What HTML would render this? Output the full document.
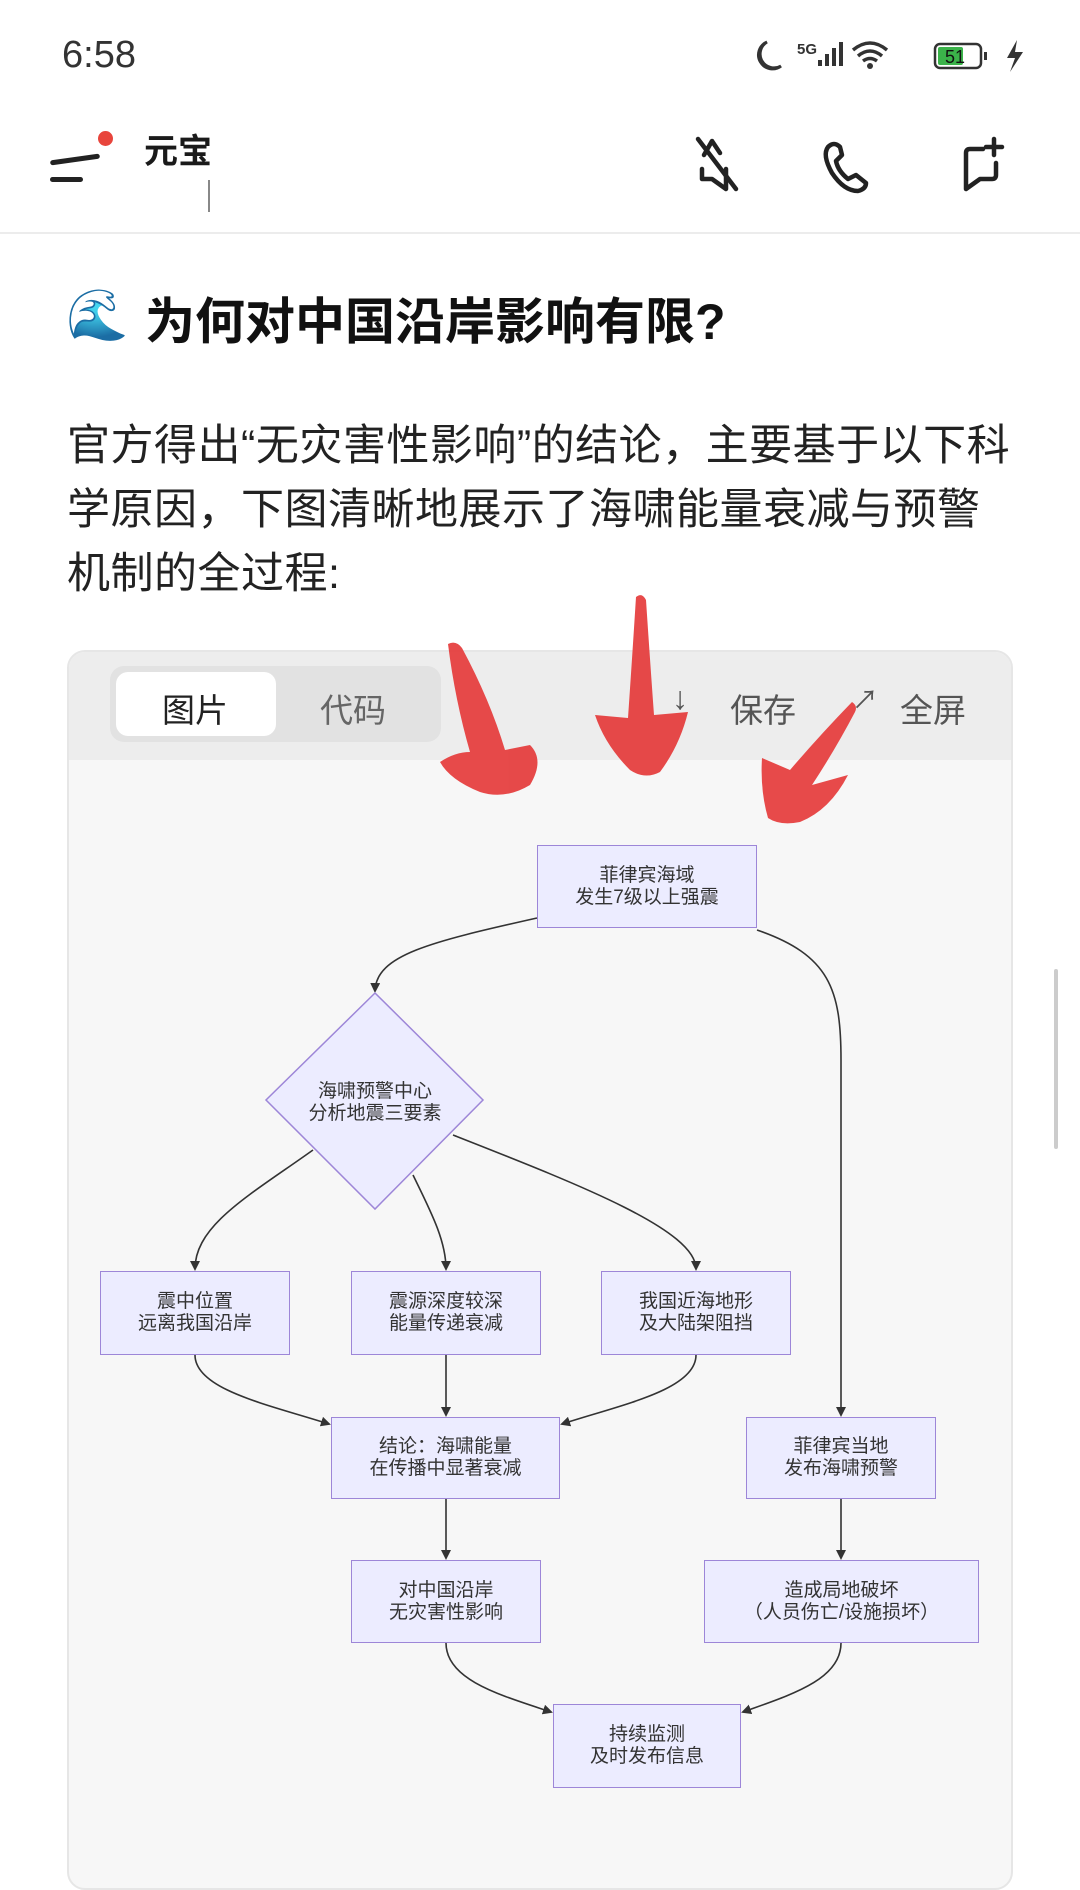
<!DOCTYPE html>
<html><head><meta charset="utf-8"><style>
*{margin:0;padding:0;box-sizing:border-box}
body{width:1080px;height:1872px;background:#fff;font-family:"Liberation Sans","Noto Sans CJK SC",sans-serif;color:#1a1a1a;position:relative;overflow:hidden}
.abs{position:absolute}
.node{position:absolute;background:#ececff;border:1.5px solid #9d86d8;display:flex;align-items:center;justify-content:center;text-align:center;font-size:19px;line-height:22px;color:#333}
</style></head><body>
<div class="abs" style="left:62px;top:34px;font-size:38px;color:#333">6:58</div>
<svg class="abs" style="left:745px;top:34px" width="290" height="44" viewBox="0 0 290 44">
<path d="M22 8 A14 14 0 1 0 36 32 A12 12 0 0 1 22 8Z" fill="none" stroke="#333" stroke-width="3"/>
<text x="52" y="20" font-size="15" font-weight="bold" fill="#333" font-family="Liberation Sans">5G</text>
<rect x="73" y="26" width="4" height="6" fill="#333"/><rect x="80" y="20" width="4" height="12" fill="#333"/><rect x="87" y="14" width="4" height="18" fill="#333"/><rect x="94" y="8" width="4" height="24" fill="#333"/>
<path d="M108 16 Q125 2 142 16 M113 22 Q125 12 137 22 M118 27 Q125 22 132 27" fill="none" stroke="#333" stroke-width="3.5"/><circle cx="125" cy="32" r="3" fill="#333"/>
<rect x="190" y="10" width="46" height="24" rx="5" fill="none" stroke="#333" stroke-width="2.5"/><rect x="193" y="13" width="25" height="18" rx="2" fill="#3bb34a"/>
<text x="200" y="29" font-size="18" fill="#111" font-family="Liberation Sans">51</text><rect x="239" y="18" width="3" height="8" fill="#333"/>
<path d="M272 6 L262 24 L270 24 L265 38 L278 18 L270 18 Z" fill="#333"/>
</svg>
<!-- header -->
<div class="abs" style="left:50px;top:157px;width:50px;height:5px;background:#222;border-radius:3px;transform:rotate(-8deg)"></div>
<div class="abs" style="left:50px;top:177px;width:33px;height:5px;background:#222;border-radius:3px"></div>
<div class="abs" style="left:98px;top:131px;width:15px;height:15px;background:#e8453c;border-radius:50%"></div>
<div class="abs" style="left:144px;top:124px;font-size:34px;font-weight:bold">元宝</div>
<div class="abs" style="left:208px;top:180px;width:2px;height:32px;background:#888"></div>
<svg class="abs" style="left:690px;top:133px" width="340" height="66" viewBox="0 0 340 66">
<g fill="none" stroke="#222" stroke-width="4.5" stroke-linecap="round" stroke-linejoin="round">
<path d="M14 22 L22 8 L30 20 M12 36 L12 46 L22 46 L36 56 L36 36"/><path d="M8 6 L46 56"/>
<path d="M150 14 Q144 8 138 14 Q132 22 142 40 Q154 58 168 58 Q176 56 176 50 L166 42 L158 46 Q148 38 146 28 L152 22 Z"/>
<path d="M293 16 L280 16 Q276 16 276 20 L276 56 L290 46 L302 46 Q306 46 306 42 L306 30 M304 6 L304 22 M296 14 L312 14"/>
</g></svg>
<div class="abs" style="left:0;top:232px;width:1080px;height:2px;background:#ececec"></div>
<!-- title -->
<div class="abs" style="left:66px;top:286px;font-size:50px">🌊</div>
<div class="abs" style="left:145px;top:282px;font-size:50px;font-weight:bold;color:#111">为何对中国沿岸影响有限?</div>
<div class="abs" style="left:67px;top:414px;width:1010px;font-size:43px;line-height:64px;color:#222;white-space:nowrap;letter-spacing:0.5px">官方得出“无灾害性影响”的结论，主要基于以下科<br>学原因，下图清晰地展示了海啸能量衰减与预警<br>机制的全过程:</div>
<!-- card -->
<div class="abs" style="left:67px;top:650px;width:946px;height:1240px;background:#f7f7f7;border:2px solid #e6e6e6;border-radius:18px;overflow:hidden">
<div style="height:108px;background:#ededed"></div>
</div>
<div class="abs" style="left:110px;top:666px;width:331px;height:76px;background:#e2e2e2;border-radius:14px"></div>
<div class="abs" style="left:116px;top:672px;width:160px;height:64px;background:#fff;border-radius:12px"></div>
<div class="abs" style="left:162px;top:684px;font-size:33px;color:#222">图片</div>
<div class="abs" style="left:320px;top:684px;font-size:33px;color:#666">代码</div>
<div class="abs" style="left:672px;top:680px;font-size:32px;color:#555">↓</div>
<div class="abs" style="left:730px;top:684px;font-size:33px;color:#555">保存</div>
<div class="abs" style="left:852px;top:680px;font-size:26px;color:#555">↗</div>
<div class="abs" style="left:900px;top:684px;font-size:33px;color:#555">全屏</div>
<div class="abs" style="left:1054px;top:969px;width:4px;height:180px;background:#ccc;border-radius:2px"></div>
<!-- edges -->
<svg class="abs" style="left:0;top:0" width="1080" height="1872">
<defs><marker id="m" markerWidth="10" markerHeight="10" refX="8" refY="5" orient="auto" markerUnits="userSpaceOnUse"><path d="M0 0 L10 5 L0 10Z" fill="#333"/></marker></defs>
<g fill="none" stroke="#333" stroke-width="1.6" marker-end="url(#m)">
<path d="M537 918 C430 942 376 955 375 991"/>
<path d="M757 930 C830 955 841 990 841 1060 L841 1415"/>
<path d="M313 1150 C250 1195 195 1225 195 1269"/>
<path d="M413 1175 C430 1210 446 1240 446 1269"/>
<path d="M453 1135 C580 1185 696 1230 696 1269"/>
<path d="M195 1355 C195 1390 270 1405 329 1424"/>
<path d="M446 1355 L446 1415"/>
<path d="M696 1355 C696 1390 620 1405 562 1424"/>
<path d="M446 1499 L446 1558"/>
<path d="M841 1499 L841 1558"/>
<path d="M446 1643 C446 1680 500 1695 551 1712"/>
<path d="M841 1643 C841 1680 790 1695 743 1712"/>
</g>
<polygon points="375,993 483,1100 375,1209 266,1100" fill="#ececff" stroke="#9d86d8" stroke-width="1.5"/>
<text font-size="19" fill="#333" text-anchor="middle" font-family="Liberation Sans,Noto Sans CJK SC,sans-serif"><tspan x="375" y="1097">海啸预警中心</tspan><tspan x="375" y="1119">分析地震三要素</tspan></text>
<!-- red arrows -->
<g fill="#e53b3b" opacity="0.92">
<path d="M448 644 Q456 640 462 648 Q490 700 505 750 L530 745 Q545 760 530 785 Q505 800 480 792 Q450 780 440 762 Q455 752 470 752 Q455 700 448 644 Z"/>
<path d="M636 597 Q642 592 646 600 Q650 660 654 715 L688 712 Q680 745 660 772 Q645 780 630 770 Q605 745 595 715 L628 718 Q632 660 636 597 Z"/>
<path d="M852 702 Q858 706 855 712 Q835 750 812 785 L848 775 Q830 810 800 822 Q780 826 768 818 Q760 790 762 758 L790 770 Q820 735 852 702 Z"/>
</g>
</svg>
<div class="node" style="left:537px;top:845px;width:220px;height:83px">菲律宾海域<br>发生7级以上强震</div>
<div class="node" style="left:100px;top:1271px;width:190px;height:84px">震中位置<br>远离我国沿岸</div>
<div class="node" style="left:351px;top:1271px;width:190px;height:84px">震源深度较深<br>能量传递衰减</div>
<div class="node" style="left:601px;top:1271px;width:190px;height:84px">我国近海地形<br>及大陆架阻挡</div>
<div class="node" style="left:331px;top:1417px;width:229px;height:82px">结论：海啸能量<br>在传播中显著衰减</div>
<div class="node" style="left:746px;top:1417px;width:190px;height:82px">菲律宾当地<br>发布海啸预警</div>
<div class="node" style="left:351px;top:1560px;width:190px;height:83px">对中国沿岸<br>无灾害性影响</div>
<div class="node" style="left:704px;top:1560px;width:275px;height:83px">造成局地破坏<br>（人员伤亡/设施损坏）</div>
<div class="node" style="left:553px;top:1704px;width:188px;height:84px">持续监测<br>及时发布信息</div>
</body></html>
